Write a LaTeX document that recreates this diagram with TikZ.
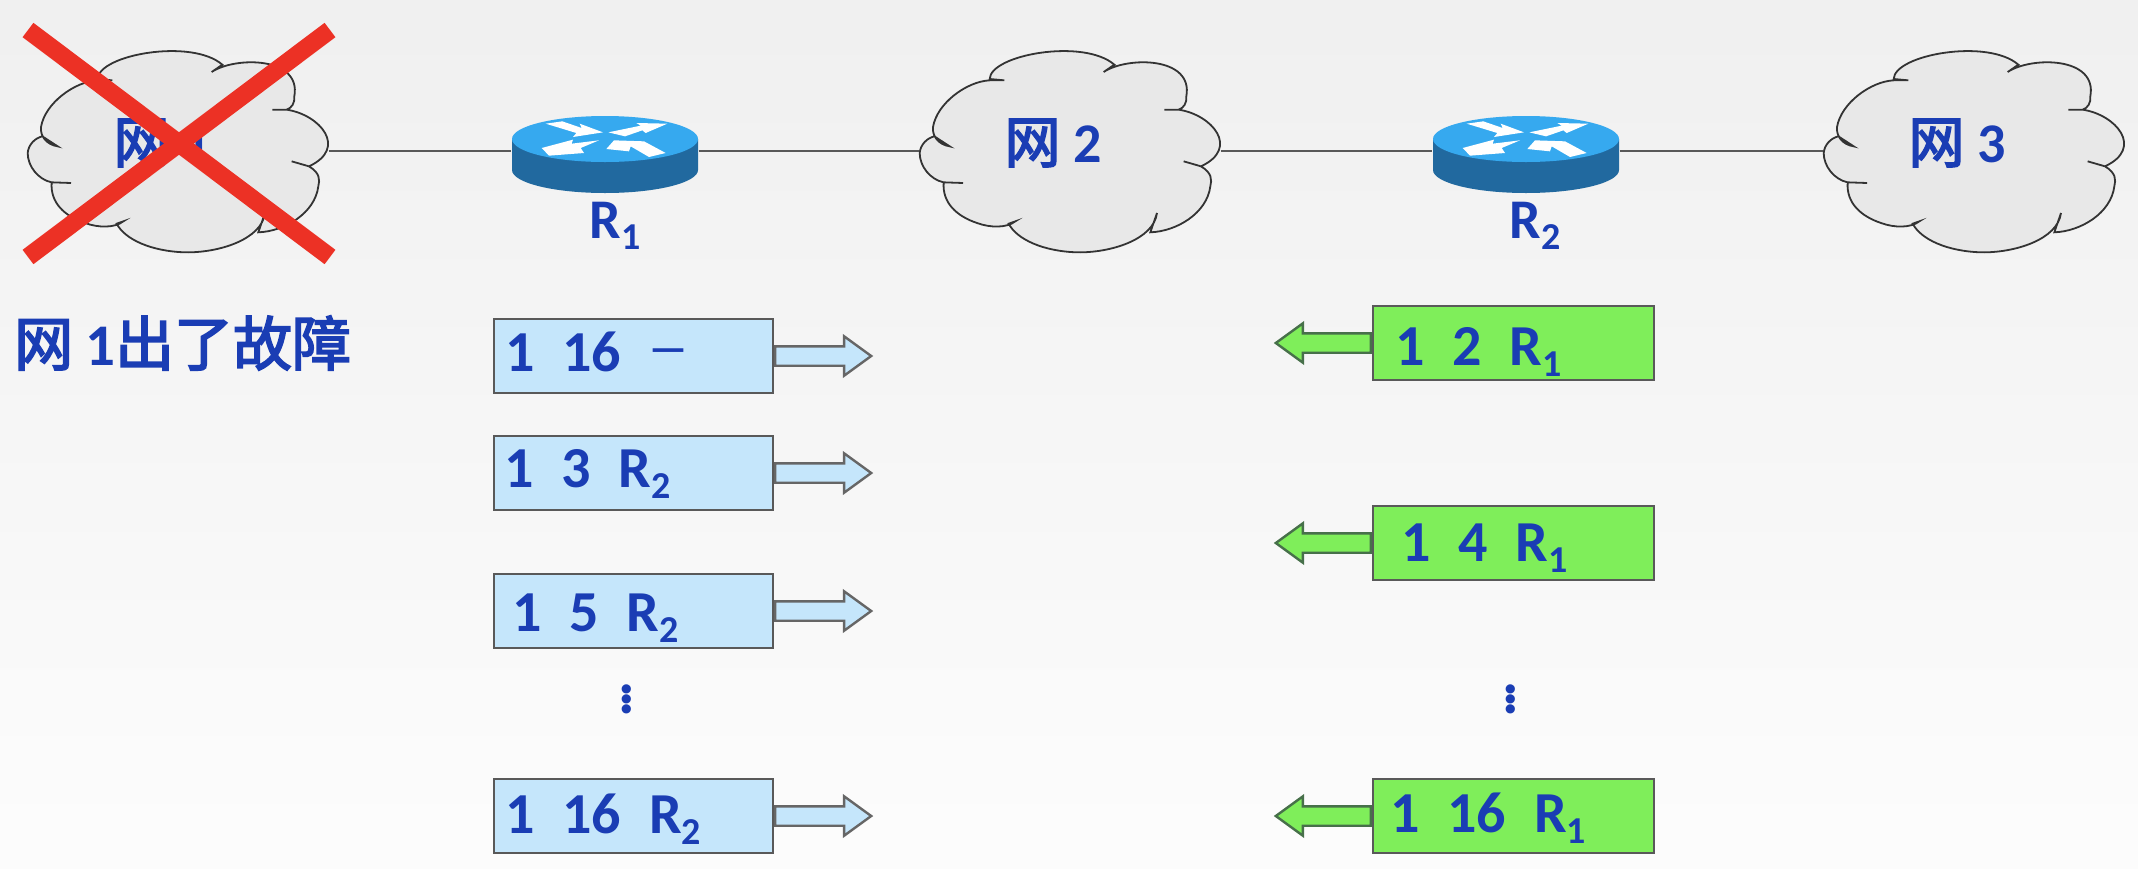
\documentclass[tikz,border=0pt]{standalone}
\usepackage{fontspec}
\setmainfont{Carlito}
\newfontfamily\cjk{Noto Sans CJK SC}[FakeBold=3]
\usetikzlibrary{arrows.meta,positioning,shapes.arrows}
\definecolor{textblue}{HTML}{1A3DB4}
\definecolor{skybox}{HTML}{C5E6FB}
\definecolor{greenbox}{HTML}{7FEE5A}
\definecolor{greenedge}{HTML}{47704A}
\definecolor{routertop}{HTML}{36A9EF}
\definecolor{routerside}{HTML}{21699F}
\definecolor{crossred}{HTML}{EC3125}
\newcommand{\sz}[1]{\fontsize{#1}{#1}\selectfont}
\newcommand{\subnum}[1]{\raisebox{-11pt}{\sz{38}#1}}
\newcommand{\gap}{\hspace{28pt}}
\newcommand{\wang}[1]{{\cjk\mdseries #1}}
\tikzset{
  netline/.style={line width=1.6pt,color=black!65},
  cloudbox/.style={inner sep=0pt,minimum width=301pt,minimum height=205pt},
  routerbox/.style={inner sep=0pt,minimum width=187pt,minimum height=74pt},
  nettext/.style={inner sep=0pt,text=textblue,font=\sz{56}\bfseries},
  rowbox/.style={draw=black!65,line width=2pt,inner xsep=0pt,inner ysep=0pt,
    minimum height=74pt,text width=#1,align=left,text height=37pt,text depth=0pt,
    text=textblue,font=\sz{58}\bfseries},
  skyrow/.style={rowbox=279pt,fill=skybox},
  greenrow/.style={rowbox=281pt,fill=greenbox},
  blockarrow/.style={single arrow,inner xsep=0pt,inner ysep=8.5pt,
    single arrow head extend=10pt,single arrow tip angle=72,line width=2.4pt},
  skyarrow/.style={blockarrow,minimum height=96pt,draw=black!60,fill=skybox},
  greenarrow/.style={blockarrow,minimum height=95pt,draw=greenedge,fill=greenbox,shape border rotate=180},
  crossline/.style={line width=18pt,color=crossred},
  netcloud/.pic={
    \draw[line width=1.8pt,draw=black!80,fill=black!9,scale=0.3333,shift={(-479,-334)}]
      (238,118) .. controls (240,45) and (520,-5) .. (612,75)
      -- (580,97) .. controls (650,50) and (850,50) .. (828,170)
      .. controls (830,190) and (820,205) .. (805,210) -- (762,210) -- (805,210)
      .. controls (905,225) and (990,325) .. (872,380) -- (820,365) -- (872,380)
      .. controls (905,400) and (905,420) .. (900,440)
      .. controls (890,520) and (800,575) .. (720,578) -- (740,520)
      .. controls (730,600) and (600,640) .. (500,638)
      .. controls (400,635) and (320,600) .. (295,552) -- (315,545)
      .. controls (290,565) and (240,565) .. (200,550)
      .. controls (140,530) and (95,490) .. (100,428) -- (158,430) -- (100,428)
      .. controls (60,420) and (28,380) .. (28,340)
      .. controls (30,315) and (50,295) .. (72,290) -- (118,320)
      .. controls (85,315) and (65,290) .. (68,262)
      .. controls (80,190) and (170,125) .. (238,122) -- (282,122) -- cycle;
  },
  routerpic/.pic={
    \fill[routerside] (-93,-12) -- (-93,19) arc[start angle=180,end angle=360,x radius=93pt,y radius=23pt] -- (93,-12) -- cycle;
    \fill[routertop] (0,-12) ellipse [x radius=93pt,y radius=23pt];
    \begin{scope}[scale=0.3333,shift={(-318,-154)},white]
      \fill (140,72) -- (190,65) -- (248,85) -- (242,72) -- (312,98) -- (222,112) -- (232,100) -- cycle;
      \fill (328,98) -- (425,78) -- (412,70) -- (505,72) -- (440,100) -- (430,92) -- (378,110) -- cycle;
      \fill (128,145) -- (222,120) -- (218,132) -- (300,122) -- (245,145) -- (255,160) -- (150,168) -- cycle;
      \fill (322,148) -- (345,122) -- (435,125) -- (500,160) -- (450,172) -- (395,140) -- (390,155) -- cycle;
    \end{scope}
  }
}
\begin{document}
\begin{tikzpicture}[x=1pt,y=-1pt]
\useasboundingbox (0,0) rectangle (2138,868);
\shade[top color=black!6,middle color=black!2,bottom color=black!1] (0,0) rectangle (2138,868);
% clouds and routers
\pic at (178,151) {netcloud};
\pic at (1070,151) {netcloud};
\pic at (1974,151) {netcloud};
\pic at (605,151) {routerpic};
\pic at (1526,151) {routerpic};
\node[cloudbox] (netone) at (178,151) {};
\node[cloudbox] (nettwo) at (1070,151) {};
\node[cloudbox] (netthree) at (1974,151) {};
\node[routerbox] (routerone) at (605,151) {};
\node[routerbox] (routertwo) at (1526,151) {};
\draw[netline] (netone) -- (routerone);
\draw[netline] (routerone) -- (nettwo);
\draw[netline] (nettwo) -- (routertwo);
\draw[netline] (routertwo) -- (netthree);
\node[nettext] (labelone) at (162,143) {\wang{网} 1};
\node[nettext] (labeltwo) at (1053,143) {\wang{网} 2};
\node[nettext] (labelthree) at (1957,143) {\wang{网} 3};
\node[nettext] (nameone) at (615,226) {R\subnum{1}};
\node[nettext] (nametwo) at (1535,226) {R\subnum{2}};
% the cross over net 1
\coordinate (crossa) at (28,30);
\coordinate (crossb) at (330,257);
\coordinate (crossc) at (330,30);
\coordinate (crossd) at (28,257);
\draw[crossline] (crossa) -- (crossb);
\draw[crossline] (crossc) -- (crossd);
\node[nettext,anchor=west,font=\sz{59}\bfseries] (faultnote) at (14,343) {\wang{网}\hspace{12pt}1\wang{出了故障}};
% rows sent by R1
\foreach \name/\yy/\xoff/\dy/\txt in {
  rowa/356/11/3/{1\gap 16\gap \raisebox{9pt}{\sz{42}---}},
  rowb/473/10/4/{1\gap 3\gap R\subnum{2}},
  rowc/611/18/-2/{1\gap 5\gap R\subnum{2}},
  rowd/816/11/1/{1\gap 16\gap R\subnum{2}}}{
  \node[skyrow] (\name) at (633.5,\yy) {\hspace*{\xoff pt}\raisebox{\dy pt}{\txt}};
  \node[skyarrow,right=0pt of \name] (\name tip) {};
}
% rows sent by R2
\foreach \name/\yy/\xoff/\dy/\txt in {
  rowe/343/22/-4/{1\gap 2\gap R\subnum{1}},
  rowf/543/28/0/{1\gap 4\gap R\subnum{1}},
  rowg/816/17/2/{1\gap 16\gap R\subnum{1}}}{
  \node[greenrow] (\name) at (1513.5,\yy) {\hspace*{\xoff pt}\raisebox{\dy pt}{\txt}};
  \node[greenarrow,left=0pt of \name] (\name tip) {};
}
\node[text=textblue,font=\sz{62}\bfseries] (dotsleft) at (627,696) {$\vdots$};
\node[text=textblue,font=\sz{62}\bfseries] (dotsright) at (1511,696) {$\vdots$};
\end{tikzpicture}
\end{document}
